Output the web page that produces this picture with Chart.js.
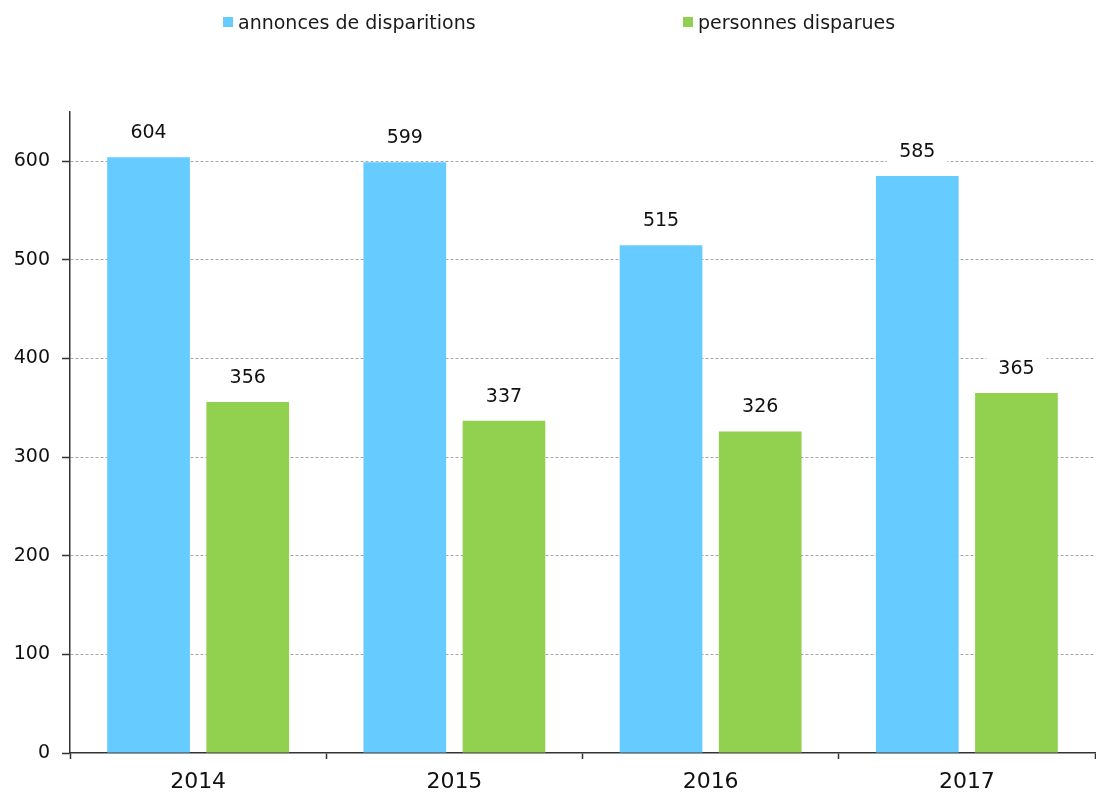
<!DOCTYPE html>
<html><head><meta charset="utf-8">
<script src="https://cdn.jsdelivr.net/npm/chart.js@4.4.0/dist/chart.umd.min.js"></script>
<style>
html,body{margin:0;padding:0;background:#fff;}
#wrap{position:relative;width:1096px;height:794px;}
#legend{position:absolute;top:11px;left:0;width:1096px;height:24px;font-family:"DejaVu Sans";font-size:19px;color:#1a1a1a;}
.item{position:absolute;top:0;display:flex;align-items:center;white-space:nowrap;line-height:22px;}
.sw{width:10px;height:10px;margin-right:5px;display:inline-block;}
canvas{position:absolute;left:0;top:0;}
</style></head>
<body>
<div id="wrap">
<canvas id="c" width="1096" height="794"></canvas>
<div id="legend"></div>
</div>
<script>
const categories = ['2014', '2015', '2016', '2017'];
const seriesNames = ['annonces de disparitions', 'personnes disparues'];
const annonces = [604, 599, 515, 585];
const personnes = [356, 337, 326, 365];
const yTicks = [0, 100, 200, 300, 400, 500, 600];
const colors = ['#66CCFF', '#92D050'];

// HTML legend
const legendPos = [223, 683];
const lg = document.getElementById('legend');
seriesNames.forEach((n, i) => {
  const it = document.createElement('div');
  it.className = 'item';
  it.style.left = legendPos[i] + 'px';
  const sw = document.createElement('span');
  sw.className = 'sw';
  sw.style.background = colors[i];
  it.appendChild(sw);
  it.appendChild(document.createTextNode(n));
  lg.appendChild(it);
});

const valueLabels = {
  id: 'valueLabels',
  afterDatasetsDraw(chart) {
    const ctx = chart.ctx;
    ctx.save();
    ctx.font = '19px "DejaVu Sans"';
    ctx.textAlign = 'center';
    ctx.textBaseline = 'middle';
    chart.data.datasets.forEach((ds, i) => {
      chart.getDatasetMeta(i).data.forEach((bar, j) => {
        const t = String(ds.data[j]);
        const w = ctx.measureText(t).width;
        const y = bar.y - 24;
        ctx.fillStyle = '#fff';
        ctx.fillRect(bar.x - w / 2 - 12, y - 11, w + 24, 22);
        ctx.fillStyle = '#111';
        ctx.fillText(t, bar.x, y);
      });
    });
    ctx.restore();
  }
};

new Chart(document.getElementById('c'), {
  type: 'bar',
  data: {
    labels: categories,
    datasets: [
      { label: seriesNames[0], data: annonces, backgroundColor: colors[0] },
      { label: seriesNames[1], data: personnes, backgroundColor: colors[1] }
    ]
  },
  options: {
    responsive: false,
    animation: false,
    layout: { padding: { top: 112, left: 0, right: 1, bottom: 0 } },
    plugins: { legend: { display: false }, tooltip: { enabled: false } },
    datasets: { bar: { categoryPercentage: 0.774, barPercentage: 0.834 } },
    scales: {
      x: {
        grid: { offset: true, drawOnChartArea: false, tickLength: 6, tickColor: '#333', tickWidth: 1.5 },
        border: { color: '#333', width: 1.5 },
        ticks: { font: { family: 'DejaVu Sans', size: 22 }, color: '#111', padding: 10 },
        afterFit(s) { s.height = 41; }
      },
      y: {
        min: 0, max: 650,
        afterBuildTicks(s) { s.ticks = yTicks.map(v => ({ value: v })); },
        grid: {
          color: c => (c.tick && c.tick.value === 0) ? 'rgba(0,0,0,0)' : '#a6a6a6',
          tickColor: '#333', tickLength: 8, tickWidth: 1.5
        },
        border: { color: '#333', width: 1.5, dash: [3, 2] },
        ticks: { font: { family: 'DejaVu Sans', size: 19 }, color: '#111', padding: 12 },
        afterFit(s) { s.width = 70; }
      }
    }
  },
  plugins: [valueLabels]
});
</script>
</body></html>
